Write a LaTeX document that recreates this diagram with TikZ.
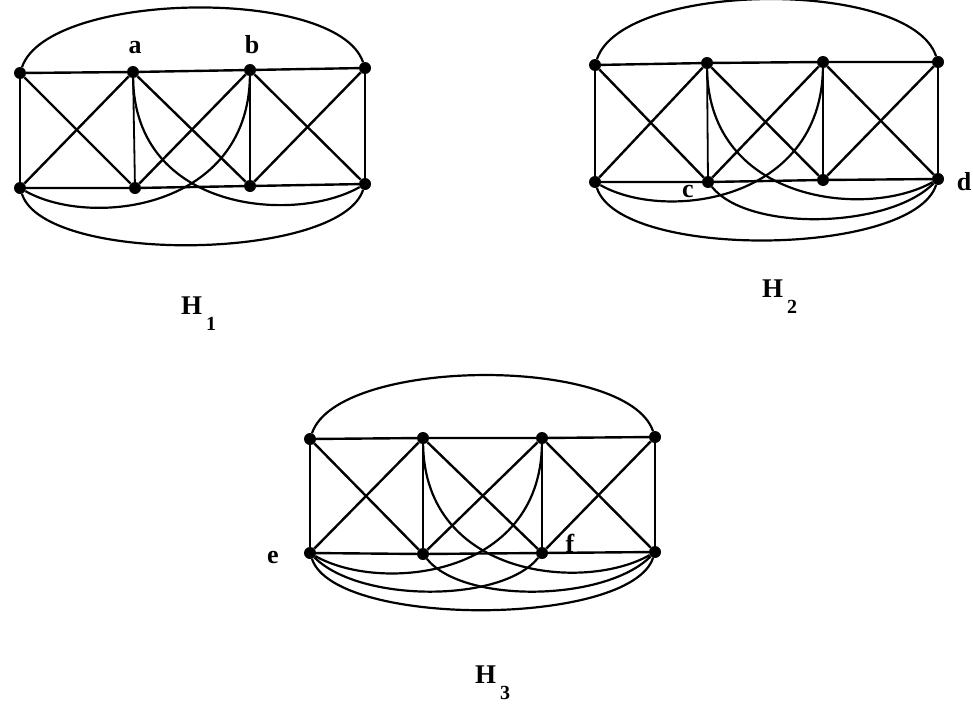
\documentclass[tikz,border=0pt]{standalone}
\usepackage{fontspec}
\setmainfont{Liberation Serif}
\newcommand\kgraph[3]{%
  % #1 prefix, #2 top-arc height, #3 bottom-arc depth
  \draw[edg] (#1t1) -- (#1t2) -- (#1t3) -- (#1t4);
  \draw[edg] (#1b1) -- (#1b2) -- (#1b3) -- (#1b4);
  \draw[vert] (#1t1) -- (#1b1);
  \draw[vert] (#1t2) -- (#1b2);
  \draw[vert] (#1t3) -- (#1b3);
  \draw[vert] (#1t4) -- (#1b4);
  \draw[edg] (#1t1) -- (#1b2);
  \draw[edg] (#1b1) -- (#1t2);
  \draw[edg] (#1t2) -- (#1b3);
  \draw[edg] (#1b2) -- (#1t3);
  \draw[edg] (#1t3) -- (#1b4);
  \draw[edg] (#1b3) -- (#1t4);
  \draw[arc] (#1t1) .. controls +(28,-#2) and +(-28,-#2) .. (#1t4);
  \draw[arc] (#1b1) .. controls +(25,#3) and +(-25,#3) .. (#1b4);
  \draw[arc] (#1t2) .. controls +(2,140) and +(-70,40) .. (#1b4);
  \draw[arc] (#1t3) .. controls +(-2,140) and +(70,40) .. (#1b1);
}
\begin{document}
\begin{tikzpicture}[x=1pt,y=-1pt,
  vtx/.style={circle,fill=black,inner sep=0pt,minimum size=12pt},
  edg/.style={line width=2.4pt},
  vert/.style={line width=1.8pt},
  arc/.style={line width=2.2pt},
  lbl/.style={font=\fontsize{26}{26}\selectfont\bfseries,inner sep=0pt,anchor=base},
  glbl/.style={font=\fontsize{27}{27}\selectfont\bfseries,inner sep=0pt,anchor=base west}]
\useasboundingbox (0,0) rectangle (973,704);
% ---------- H1 ----------
\node[vtx] (Pt1) at (20,73) {};
\node[vtx] (Pt2) at (133,72) {};
\node[vtx] (Pt3) at (250,70) {};
\node[vtx] (Pt4) at (365,68) {};
\node[vtx] (Pb1) at (20,188) {};
\node[vtx] (Pb2) at (135,188) {};
\node[vtx] (Pb3) at (250,186) {};
\node[vtx] (Pb4) at (365,184) {};
\kgraph{P}{82}{77}
\node[lbl] (la) at (135,53) {a};
\node[lbl] (lb) at (252,53) {b};
\node[glbl] (h1) at (181,314) {H\hspace{4pt}\raisebox{-16pt}{\fontsize{20}{20}\selectfont 1}};
% ---------- H2 ----------
\node[vtx] (Qt1) at (595,65) {};
\node[vtx] (Qt2) at (707,63) {};
\node[vtx] (Qt3) at (823,62) {};
\node[vtx] (Qt4) at (938,62) {};
\node[vtx] (Qb1) at (595,182) {};
\node[vtx] (Qb2) at (708,182) {};
\node[vtx] (Qb3) at (823,180) {};
\node[vtx] (Qb4) at (938,179) {};
\kgraph{Q}{84}{78}
\draw[arc] (Qb2) .. controls +(40,50) and +(-50,50) .. (Qb4);
\node[lbl] (lc) at (688,197) {c};
\node[lbl] (ld) at (964,190) {d};
\node[glbl] (h2) at (762,297) {H\hspace{4pt}\raisebox{-16pt}{\fontsize{20}{20}\selectfont 2}};
% ---------- H3 ----------
\node[vtx] (Rt1) at (310,439) {};
\node[vtx] (Rt2) at (423,438) {};
\node[vtx] (Rt3) at (542,438) {};
\node[vtx] (Rt4) at (655,437) {};
\node[vtx] (Rb1) at (310,553) {};
\node[vtx] (Rb2) at (423,554) {};
\node[vtx] (Rb3) at (542,553) {};
\node[vtx] (Rb4) at (655,552) {};
\kgraph{R}{82}{75}
\draw[arc] (Rb2) .. controls +(40,50) and +(-50,50) .. (Rb4);
\draw[arc] (Rb1) .. controls +(50,50) and +(-40,50) .. (Rb3);
\node[lbl] (le) at (273,563) {e};
\node[lbl] (lf) at (570,552) {f};
\node[glbl] (h3) at (475,683) {H\hspace{4pt}\raisebox{-16pt}{\fontsize{20}{20}\selectfont 3}};
\end{tikzpicture}
\end{document}
